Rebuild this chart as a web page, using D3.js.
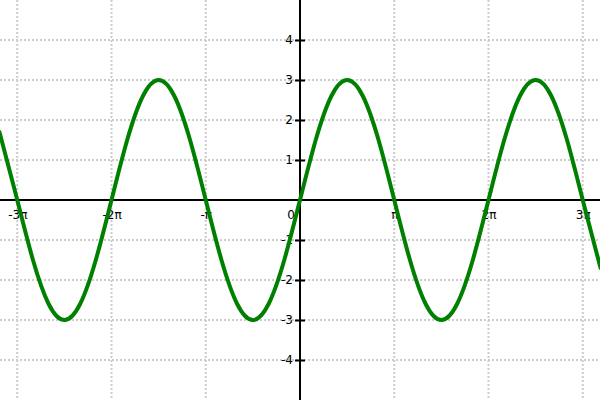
<!DOCTYPE html>
<html>
<head>
<meta charset="utf-8">
<script src="https://cdn.jsdelivr.net/npm/d3@7"></script>
<style>
  html, body { margin: 0; padding: 0; background: #fff; }
  svg { display: block; }
  text { font-family: "DejaVu Sans", sans-serif; font-size: 12px; fill: #000; }
</style>
</head>
<body>
<svg id="chart" width="600" height="400"></svg>
<script>
// ---- data ----
const xTickValues = [-3 * Math.PI, -2 * Math.PI, -Math.PI, Math.PI, 2 * Math.PI, 3 * Math.PI];
const xTickLabels = ["-3π", "-2π", "-π", "π", "2π", "3π"];
const yTickValues = [-4, -3, -2, -1, 1, 2, 3, 4];
const yTickLabels = ["-4", "-3", "-2", "-1", "1", "2", "3", "4"];
const curveX = [-10, -9.948, -9.425, -8.901, -8.378, -7.854, -7.330, -6.807, -6.283, -5.760, -5.236,
  -4.712, -4.189, -3.665, -3.142, -2.618, -2.094, -1.571, -1.047, -0.524, 0,
  0.524, 1.047, 1.571, 2.094, 2.618, 3.142, 3.665, 4.189, 4.712, 5.236,
  5.760, 6.283, 6.807, 7.330, 7.854, 8.378, 8.901, 9.425, 9.948, 10];
const curveY = [1.63, 1.5, 0, -1.5, -2.6, -3, -2.6, -1.5, 0, 1.5, 2.6,
  3, 2.6, 1.5, 0, -1.5, -2.6, -3, -2.6, -1.5, 0,
  1.5, 2.6, 3, 2.6, 1.5, 0, -1.5, -2.6, -3, -2.6,
  -1.5, 0, 1.5, 2.6, 3, 2.6, 1.5, 0, -1.5, -1.63];

const W = 600, H = 400;
const svg = d3.select("#chart");
const x = d3.scaleLinear().domain([-10, 10]).range([0, W]);
const y = d3.scaleLinear().domain([-5, 5]).range([H, 0]);

// grid
const grid = svg.append("g");
grid.selectAll("line.gv").data(xTickValues).join("line")
  .attr("x1", d => x(d)).attr("x2", d => x(d))
  .attr("y1", 0).attr("y2", H)
  .attr("stroke", "#ccc").attr("stroke-width", 2).attr("stroke-dasharray", "2,2");
grid.selectAll("line.gh").data(yTickValues).join("line")
  .attr("y1", d => y(d)).attr("y2", d => y(d))
  .attr("x1", 0).attr("x2", W)
  .attr("stroke", "#ccc").attr("stroke-width", 2).attr("stroke-dasharray", "2,2");

// x axis
const xAxis = svg.append("g").attr("transform", `translate(0,${y(0)})`)
  .call(d3.axisBottom(x).tickValues(xTickValues).tickSize(0).tickFormat((d, i) => xTickLabels[i]));
xAxis.select(".domain").attr("stroke", "#000").attr("stroke-width", 2).attr("d", `M0,0H${W}`);
xAxis.selectAll(".tick text").attr("dy", null).attr("y", 19)
  .style("font-family", '"DejaVu Sans", sans-serif').style("font-size", "12px").attr("fill", "#000");
// origin label
svg.append("text").attr("x", x(0) - 5).attr("y", y(0) + 19).attr("text-anchor", "end").text("0");

// y axis
const yAxis = svg.append("g").attr("transform", `translate(${x(0)},0)`)
  .call(d3.axisLeft(y).tickValues(yTickValues).tickSizeInner(0).tickSizeOuter(0).tickFormat((d, i) => yTickLabels[i]));
yAxis.select(".domain").attr("stroke", "#000").attr("stroke-width", 2).attr("d", `M0,0V${H}`);
yAxis.selectAll(".tick line").attr("x1", -5).attr("x2", 5).attr("stroke", "#000").attr("stroke-width", 2);
yAxis.selectAll(".tick text").attr("x", -7)
  .style("font-family", '"DejaVu Sans", sans-serif').style("font-size", "12px").attr("fill", "#000");

// curve
const pts = curveX.map((v, i) => [v, curveY[i]]);
svg.append("path").datum(pts)
  .attr("fill", "none").attr("stroke", "green").attr("stroke-width", 4)
  .attr("d", d3.line().x(d => x(d[0])).y(d => y(d[1])).curve(d3.curveNatural));
</script>
</body>
</html>
